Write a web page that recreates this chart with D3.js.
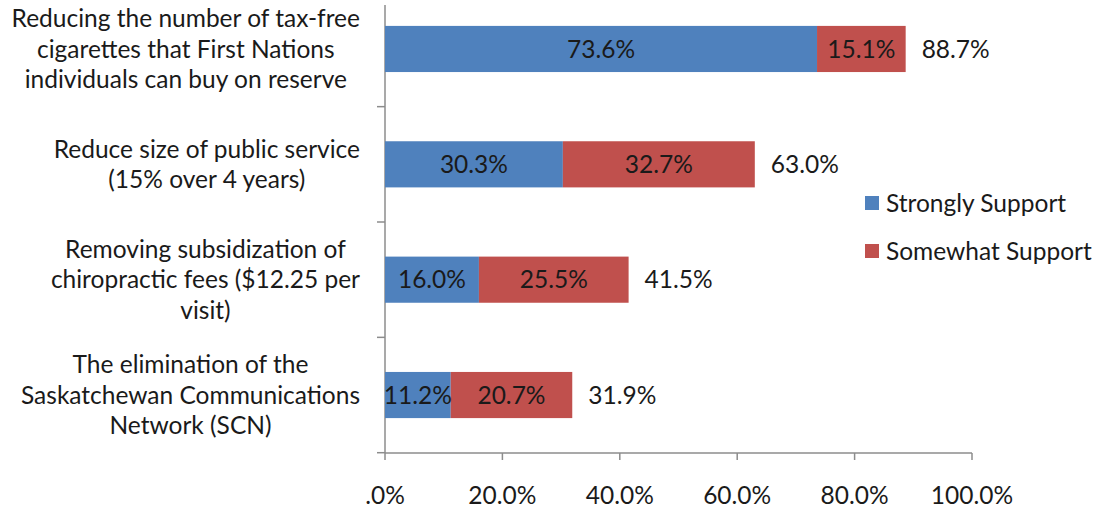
<!DOCTYPE html>
<html>
<head>
<meta charset="utf-8">
<script src="https://cdn.jsdelivr.net/npm/d3@7"></script>
<style>
  body { margin: 0; background: #fff; }
  text { font-family: Lato, "Open Sans", sans-serif; fill: #1a1a1a; }
</style>
</head>
<body>
<div id="chart"></div>
<script>
// chart data
const categories = [
  ["Reducing the number of tax-free", "cigarettes that First Nations", "individuals can buy on reserve"],
  ["Reduce size of public service", "(15% over 4 years)"],
  ["Removing subsidization of", "chiropractic fees ($12.25 per", "visit)"],
  ["The elimination of the", "Saskatchewan Communications", "Network (SCN)"]
];
const strongly = [73.6, 30.3, 16.0, 11.2];
const somewhat = [15.1, 32.7, 25.5, 20.7];
const totals = [88.7, 63.0, 41.5, 31.9];
const seriesNames = ["Strongly Support", "Somewhat Support"];
const xTicks = [0, 20, 40, 60, 80, 100];
const xTickLabels = [".0%", "20.0%", "40.0%", "60.0%", "80.0%", "100.0%"];

const colors = ["#4F81BD", "#C0504D"];
const width = 1094, height = 508;
const fontSize = 24.5;

const svg = d3.select("#chart").append("svg")
  .attr("width", width)
  .attr("height", height);

const x = d3.scaleLinear().domain([0, 100]).range([385, 972]);
const y = d3.scaleBand()
  .domain(d3.range(categories.length))
  .range([-8.7, 452.7])
  .paddingInner(0.6)
  .paddingOuter(0.3);

// axes lines
const axisColor = "#8c8c8c";
svg.append("line")
  .attr("x1", x(0)).attr("x2", x(0))
  .attr("y1", 5).attr("y2", 453)
  .attr("stroke", axisColor).attr("stroke-width", 1.5);
svg.append("line")
  .attr("x1", x(0)).attr("x2", x(100))
  .attr("y1", 453).attr("y2", 453)
  .attr("stroke", axisColor).attr("stroke-width", 1.5);

// category separator ticks
const step = y.step();
d3.range(categories.length).forEach(i => {
  const ty = y(i) + y.bandwidth() / 2 + step / 2;
  svg.append("line")
    .attr("x1", x(0) - 8).attr("x2", x(0))
    .attr("y1", ty).attr("y2", ty)
    .attr("stroke", axisColor).attr("stroke-width", 1.5);
});

// x ticks
svg.selectAll(".xtick")
  .data(xTicks)
  .enter().append("line")
  .attr("x1", d => x(d)).attr("x2", d => x(d))
  .attr("y1", 453).attr("y2", 460)
  .attr("stroke", axisColor).attr("stroke-width", 1.5);

svg.selectAll(".xlabel")
  .data(xTicks)
  .enter().append("text")
  .attr("x", d => x(d))
  .attr("y", 504)
  .attr("text-anchor", "middle")
  .style("font-size", fontSize + "px")
  .text((d, i) => xTickLabels[i]);

// bars
const rows = categories.map((c, i) => ({ i, s: strongly[i], m: somewhat[i], t: totals[i] }));
const barG = svg.append("g");

barG.selectAll(".strong")
  .data(rows)
  .enter().append("rect")
  .attr("x", x(0))
  .attr("y", d => y(d.i))
  .attr("width", d => x(d.s) - x(0))
  .attr("height", y.bandwidth())
  .attr("fill", colors[0]);

barG.selectAll(".some")
  .data(rows)
  .enter().append("rect")
  .attr("x", d => x(d.s))
  .attr("y", d => y(d.i))
  .attr("width", d => x(d.s + d.m) - x(d.s))
  .attr("height", y.bandwidth())
  .attr("fill", colors[1]);

// value labels
const labelY = d => y(d.i) + y.bandwidth() / 2;
barG.selectAll(".lblS")
  .data(rows)
  .enter().append("text")
  .attr("x", d => (x(0) + x(d.s)) / 2)
  .attr("y", labelY)
  .attr("dy", "0.35em")
  .attr("text-anchor", "middle")
  .style("font-size", fontSize + "px")
  .text(d => d.s.toFixed(1) + "%");

barG.selectAll(".lblM")
  .data(rows)
  .enter().append("text")
  .attr("x", d => (x(d.s) + x(d.s + d.m)) / 2)
  .attr("y", labelY)
  .attr("dy", "0.35em")
  .attr("text-anchor", "middle")
  .style("font-size", fontSize + "px")
  .text(d => d.m.toFixed(1) + "%");

barG.selectAll(".lblT")
  .data(rows)
  .enter().append("text")
  .attr("x", d => x(d.s + d.m) + 16)
  .attr("y", labelY)
  .attr("dy", "0.35em")
  .style("font-size", fontSize + "px")
  .text(d => d.t.toFixed(1) + "%");

// category labels: block right-aligned to the axis, lines centred within it
const lineH = 30.5;
categories.forEach((lines, i) => {
  const g = svg.append("g");
  const cy = y(i) + y.bandwidth() / 2;
  const texts = lines.map((ln, k) => g.append("text")
    .attr("y", cy + (k - (lines.length - 1) / 2) * lineH)
    .attr("dy", "0.35em")
    .attr("text-anchor", "middle")
    .style("font-size", fontSize + "px")
    .text(ln));
  const maxW = d3.max(texts, t => t.node().getComputedTextLength());
  texts.forEach(t => t.attr("x", 360 - maxW / 2));
});

// legend
const legend = svg.append("g");
seriesNames.forEach((name, i) => {
  const ly = 203 + i * 48;
  legend.append("rect")
    .attr("x", 865).attr("y", ly - 7)
    .attr("width", 14).attr("height", 14)
    .attr("fill", colors[i]);
  legend.append("text")
    .attr("x", 886).attr("y", ly)
    .attr("dy", "0.35em")
    .style("font-size", fontSize + "px")
    .text(name);
});
</script>
</body>
</html>
